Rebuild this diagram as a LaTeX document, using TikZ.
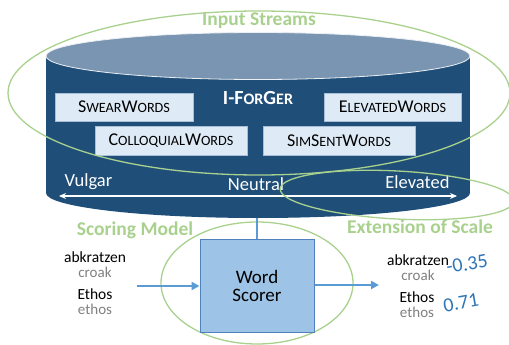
\documentclass[tikz,border=0pt]{standalone}
\usepackage{fontspec}
\setmainfont{Carlito}
\usetikzlibrary{arrows.meta}
\definecolor{cyldark}{HTML}{1F4E79}
\definecolor{cyltop}{HTML}{7A95B1}
\definecolor{boxfill}{HTML}{DEEBF7}
\definecolor{boxline}{HTML}{A9BFD8}
\definecolor{scorerfill}{HTML}{9DC3E6}
\definecolor{scorerline}{HTML}{4F81BD}
\definecolor{flowblue}{HTML}{5B9BD5}
\definecolor{ringgreen}{HTML}{A9D18E}
\definecolor{glossgray}{HTML}{808080}
\definecolor{scoreblue}{HTML}{2E75B6}
\newcommand{\fsz}[1]{\fontsize{#1}{#1}\selectfont}
\newcommand{\smc}[1]{{\fsz{14.2}#1}}
\begin{document}
\begin{tikzpicture}[x=1pt,y=-1pt,
  lexbox/.style={draw=boxline,fill=boxfill,line width=0.8pt,inner sep=0pt,
    minimum height=28pt,font=\fsz{18}},
  ring/.style={draw=ringgreen,line width=1.3pt},
  ringlabel/.style={text=ringgreen,font=\bfseries\fsz{19.5}},
  scalelabel/.style={text=white,font=\fsz{18.5}},
  word/.style={font=\fsz{15.5},inner sep=0pt},
  gloss/.style={font=\fsz{15},text=glossgray,inner sep=0pt},
  score/.style={font=\fsz{20},text=scoreblue,rotate=10,inner sep=0pt},
  flow/.style={draw=flowblue,line width=2pt,-{Triangle[length=8pt,width=8pt]}}]
\useasboundingbox (0,0) rectangle (509,345);

% database cylinder
\fill[cyldark] (46,56) rectangle (470,193);
\fill[cyldark] (258,193) ellipse [x radius=212,y radius=25];
\filldraw[fill=cyltop,draw=white!85!cyltop,line width=0.8pt] (258,56) ellipse [x radius=212,y radius=23.5];
\node[text=white,font=\bfseries\fsz{20}] (iforger) at (258,98) {I-F{\fsz{16}OR}G{\fsz{16}ER}};

% lexicon boxes
\node[lexbox,minimum width=138pt] (swear) at (124,107) {S\smc{WEAR}W\smc{ORDS}};
\node[lexbox,minimum width=137pt] (elev) at (392.5,107) {E\smc{LEVATED}W\smc{ORDS}};
\node[lexbox,minimum width=152pt,minimum height=29pt] (coll) at (171,140.5) {C\smc{OLLOQUIAL}W\smc{ORDS}};
\node[lexbox,minimum width=152pt,minimum height=29pt] (sims) at (339,140.5) {S\smc{IM}S\smc{ENT}W\smc{ORDS}};

% scale
\node[scalelabel,anchor=west] (vulgar) at (61,182) {Vulgar};
\node[scalelabel] (neutral) at (256,184) {Neutral};
\node[scalelabel,anchor=east] (elevated) at (453,182) {Elevated};
\coordinate (sl) at (59,196);
\coordinate (sr) at (457,196);
\draw[white,line width=1.3pt,{Stealth[length=7pt,width=6pt]}-{Stealth[length=7pt,width=6pt]}] (sl) -- (sr);

% rings
\draw[ring] (259,93) ellipse [x radius=251,y radius=82];
\node[ringlabel] (inlabel) at (259,21) {Input Streams};
\draw[ring,rotate around={-3:(397,195)}] (397,195) ellipse [x radius=117,y radius=24];
\node[ringlabel] (extlabel) at (420,227) {Extension of Scale};
\node[ringlabel] (scorelabel) at (135,230) {Scoring Model};
\draw[ring] (257,283) ellipse [x radius=96,y radius=61];

% scorer
\node[draw=scorerline,fill=scorerfill,line width=1pt,minimum width=114pt,minimum height=93pt,
  align=center,font=\fsz{19},inner sep=0pt] (scorer) at (257,285.5) {Word\\[-1pt]Scorer};
\coordinate (cylbottom) at (257,218);
\draw[flowblue,line width=2pt] (cylbottom) -- (scorer.north);

% inputs
\node[word] (w1) at (95,257) {abkratzen};
\node[gloss] (g1) at (95,272.5) {croak};
\node[word] (w2) at (95,294) {Ethos};
\node[gloss] (g2) at (95,309.5) {ethos};
\coordinate (inA) at (137,286);
\draw[flow] (inA) -- (inA -| scorer.west);

% outputs
\coordinate (outB) at (379,285);
\draw[flow] (scorer.east |- outB) -- (outB);
\node[word] (o1) at (418,260) {abkratzen};
\node[gloss] (og1) at (418,275.5) {croak};
\node[word] (o2) at (417,297) {Ethos};
\node[gloss] (og2) at (417,312.5) {ethos};
\node[score] (s1) at (467,264) {-0.35};
\node[score] (s2) at (461,303) {0.71};
\end{tikzpicture}
\end{document}
